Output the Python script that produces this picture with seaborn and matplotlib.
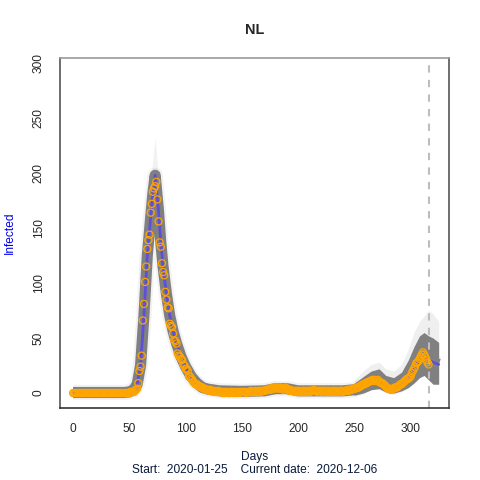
import numpy as np
import pandas as pd
import matplotlib
matplotlib.use("Agg")
import matplotlib.pyplot as plt
import seaborn as sns

# =======================================
# Observed daily counts (day 0 = 2020-01-25)
# =======================================
observed = (
    [0] * 48
    + [0, 0, 0, 1, 1, 1, 1, 2, 3, 4]                      # 48-57
    + [9, 20, 24, 34, 66, 81, 101, 115, 131, 139]         # 58-67
    + [144, 164, 172, 183, 186, 188, 192, 176, 156, 137]  # 68-77
    + [133, 118, 110, 107, 92, 85, 78, 77, 63, 61]        # 78-87
    + [60, 54, 48, 47, 45, 36, 34, 33, 31, 30]            # 88-97
    + [26, 25, 22, 22, 20, 15, 15, 13, 12, 10]            # 98-107
    + [9, 8, 8, 7, 6, 6, 5, 5, 4, 4, 3, 3, 3]             # 108-120
    + [2, 3, 2, 2, 1, 2, 1, 1, 2, 1]                      # 121-130
    + [1, 1, 0, 1, 0, 1, 1, 0, 0, 1, 1, 0, 1, 0, 0, 1, 1, 0, 1, 1]  # 131-150
    + [1, 1, 1, 0, 1, 1, 1, 2, 1, 1, 1, 2, 1, 1, 2, 2, 1, 2, 2, 2]  # 151-170
    + [2, 3, 3, 3, 4, 3, 4, 5, 4, 5]                      # 171-180
    + [5, 4, 5, 4, 5, 4, 3, 4, 5, 4, 3, 2, 3, 2, 2]       # 181-195
    + [2, 1, 2, 2, 1, 2, 1, 1, 2, 2, 1, 2, 1, 2, 2, 1, 2, 2, 3, 2]  # 196-215
    + [2, 1, 2, 2, 2, 1, 2, 2, 2, 1, 2, 1, 2, 1, 1, 2, 2, 1, 2, 1]  # 216-235
    + [1, 2, 2, 2, 1, 2, 2, 2, 3, 2, 3, 3, 3, 4, 4]       # 236-250
    + [4, 5, 5, 5, 6, 7, 7, 8, 8, 9, 9, 10]               # 251-262
    + [10, 11, 11, 12, 11, 12, 11, 11, 12, 10, 10, 9, 9]  # 263-275
    + [8, 7, 6, 5, 4, 4, 3, 3, 4, 4, 5, 5, 5, 6, 7]       # 276-290
    + [8, 8, 9, 10, 11, 12, 13, 13, 14, 15]               # 291-300
    + [18, 20, 22, 24, 27, 28, 29, 31, 33, 35]            # 301-310
    + [37, 35, 33, 30, 28, 26]                            # 311-316
)
days = list(range(len(observed)))

# =======================================
# Model median trajectory
# =======================================
model_day = [0, 45, 50, 54, 57, 60, 63, 66, 69, 71, 73, 76, 78, 80, 83, 86,
             89, 92, 96, 100, 105, 110, 115, 120, 130, 150, 170, 180, 190,
             200, 220, 240, 250, 258, 265, 272, 278, 285, 292, 298, 303,
             308, 312, 316, 320, 325]
model_mid = [0.5, 0.5, 1, 3, 8, 25, 70, 125, 160, 182, 198, 165, 137, 115,
             90, 70, 56, 45, 33, 24, 15, 9, 5, 3.5, 2, 1.5, 2, 4, 4, 2, 2, 2,
             3, 6, 10, 11, 7, 5, 8, 14, 22, 30, 34, 30, 28, 26]

# Wider spread of trajectories at the end of the series
end_day = [250, 258, 265, 272, 278, 285, 292, 298, 303, 308, 312, 316, 320, 325]
end_lo = [-2, 0, 3, 4, 1, 0, 2, 5, 9, 14, 16, 12, 8, 8]
end_hi = [9, 15, 20, 22, 16, 14, 19, 30, 42, 52, 55, 52, 50, 46]
end_top_faint = [12, 20, 26, 28, 22, 20, 26, 40, 55, 65, 70, 75, 72, 65]

# Faint tail of trajectories above the peak
peak_day = [64, 66, 69, 71, 73, 75, 77, 80]
peak_base = [90, 125, 160, 182, 198, 180, 150, 115]
peak_top = [110, 150, 188, 215, 232, 208, 168, 125]

CURRENT_DAY = 316
TITLE = "NL"
SUBTITLE = "Start:  2020-01-25    Current date:  2020-12-06"

# =======================================
# Plot
# =======================================
sns.set_style("white")
plt.rcParams["font.family"] = ["Liberation Sans", "DejaVu Sans"]

fig = plt.figure(figsize=(4.8, 4.8), dpi=100)
ax = fig.add_axes([0.125, 0.15, 0.81, 0.729])

model = pd.DataFrame({"day": model_day, "mid": model_mid})
obs = pd.DataFrame({"day": days, "value": observed})

grey = "#808080"

# spread of trajectories
ax.fill_between(peak_day, peak_base, peak_top, color=grey, alpha=0.1, lw=0)
ax.fill_between(end_day, end_lo, end_top_faint, color=grey, alpha=0.12, lw=0)
sns.lineplot(data=model, x="day", y="mid", ax=ax, color=grey, lw=11,
             alpha=0.1, solid_joinstyle="round", solid_capstyle="butt")
sns.lineplot(data=model, x="day", y="mid", ax=ax, color=grey, lw=8,
             solid_joinstyle="round", solid_capstyle="butt")
ax.fill_between(end_day, end_lo, end_hi, color=grey, lw=0)

# median
sns.lineplot(data=model, x="day", y="mid", ax=ax, color="#5e4fd8", lw=2)

# observed
sns.scatterplot(data=obs, x="day", y="value", ax=ax, marker="o",
                facecolor="none", edgecolor="#FFA500", s=26, linewidth=0.9,
                zorder=5)

ax.axvline(CURRENT_DAY, color="#bdbdbd", lw=1.5, ls=(0, (3.5, 3.5)))

ax.set_xlim(-11.6, 334)
ax.set_ylim(-13.6, 304.5)
ax.set_xticks([0, 50, 100, 150, 200, 250, 300])
ax.set_yticks([0, 50, 100, 150, 200, 250, 300])
ax.tick_params(axis="both", direction="out", length=5, width=0.8,
               color="#333333", labelsize=8.6, pad=6)
ax.tick_params(axis="y", labelrotation=90)
for lab in ax.get_yticklabels():
    lab.set_va("center")

ax.spines["left"].set_color("#555555")
ax.spines["bottom"].set_color("#333333")
ax.spines["top"].set_color("#999999")
ax.spines["right"].set_color("#555555")
for s in ax.spines.values():
    s.set_linewidth(1.2)

ax.set_xlabel("")
ax.set_ylabel("Infected", color="#0000ee", fontsize=8.6, labelpad=12)

fig.text(0.53, 0.937, TITLE, ha="center", va="center", fontsize=10.4,
         fontweight="bold")
fig.text(0.53, 0.048, "Days", ha="center", va="center", fontsize=8.6,
         color="#0a1a3a")
fig.text(0.53, 0.021, SUBTITLE, ha="center", va="center", fontsize=8.6,
         color="#0a1a3a")

fig.savefig("out.png", dpi=100)
